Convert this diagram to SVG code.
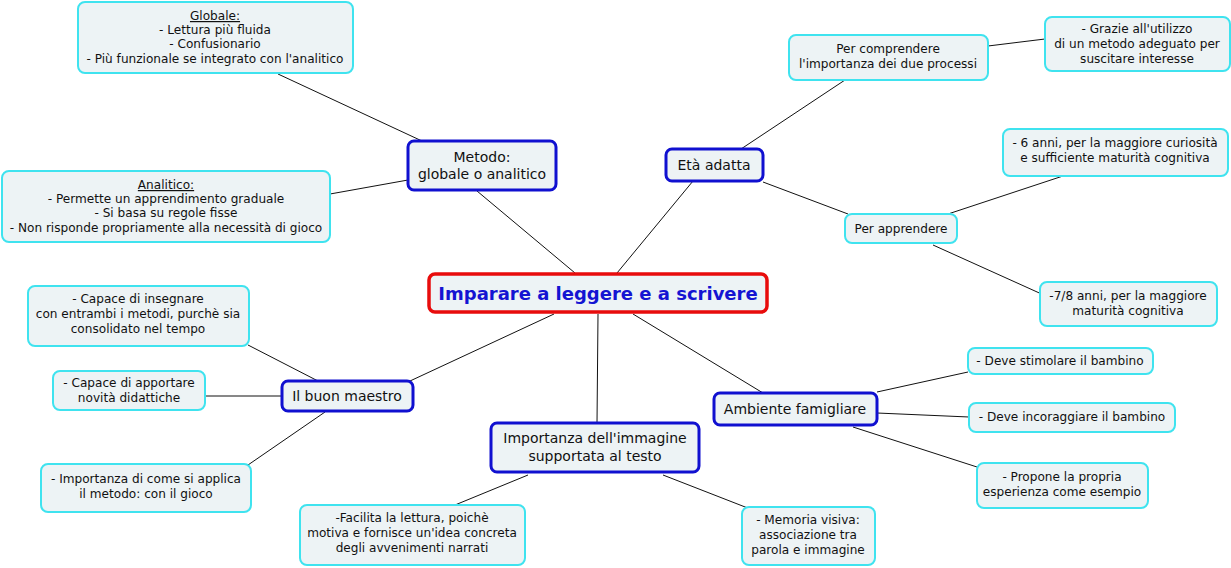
<svg xmlns="http://www.w3.org/2000/svg" width="1231" height="568" viewBox="0 0 1231 568">
<style>
text{font-family:"DejaVu Sans",Verdana,sans-serif;fill:#111;text-anchor:middle}
.leaf rect{fill:#edf3f5;stroke:#3fe3ef;stroke-width:2}
.leaf text{font-size:12.1px}
.main rect{fill:#edf3f5;stroke:#1010d0;stroke-width:3}
.main text{font-size:14px}
.c line{stroke:#111;stroke-width:1}
</style>
<rect width="1231" height="568" fill="#fff"/>
<g class="c">
<line x1="278" y1="74" x2="422" y2="141"/>
<line x1="330" y1="194" x2="408" y2="180"/>
<line x1="477" y1="191" x2="575" y2="273"/>
<line x1="617" y1="273" x2="693" y2="181"/>
<line x1="741" y1="149" x2="845" y2="80"/>
<line x1="988" y1="46" x2="1045" y2="39"/>
<line x1="763" y1="182" x2="848" y2="214"/>
<line x1="948" y1="214" x2="1066" y2="175"/>
<line x1="933" y1="245" x2="1046" y2="296"/>
<line x1="554" y1="314" x2="410" y2="381"/>
<line x1="598" y1="314" x2="597" y2="423"/>
<line x1="633" y1="314" x2="763" y2="393"/>
<line x1="248" y1="345" x2="318" y2="381"/>
<line x1="205" y1="396" x2="282" y2="396"/>
<line x1="248" y1="465" x2="325" y2="412"/>
<line x1="455" y1="505" x2="528" y2="475"/>
<line x1="663" y1="475" x2="758" y2="512"/>
<line x1="877" y1="392" x2="968" y2="372"/>
<line x1="877" y1="413" x2="969" y2="417"/>
<line x1="853" y1="427" x2="977" y2="467"/>
</g>
<g id="central"><rect x="429" y="274" width="338" height="38" rx="6" fill="#edf3f5" stroke="#e80c0c" stroke-width="3.5"/><text x="598" y="300" font-size="18" font-weight="bold" style="fill:#1414d2">Imparare a leggere e a scrivere</text></g>
<g id="metodo" class="main"><rect x="408" y="141" width="148" height="49" rx="6"/><text x="482" y="162">Metodo:</text><text x="482" y="179">globale o analitico</text></g>
<g id="eta" class="main"><rect x="666" y="149" width="97" height="32" rx="6"/><text x="714" y="170">Età adatta</text></g>
<g id="maestro" class="main"><rect x="282" y="381" width="131" height="30" rx="6"/><text x="347" y="401">Il buon maestro</text></g>
<g id="immagine" class="main"><rect x="491" y="423" width="208" height="49" rx="6"/><text x="595" y="443">Importanza dell'immagine</text><text x="595" y="461">supportata al testo</text></g>
<g id="ambiente" class="main"><rect x="714" y="393" width="163" height="32" rx="6"/><text x="795" y="414">Ambiente famigliare</text></g>
<g id="globale" class="leaf"><rect x="78" y="2" width="275" height="71" rx="7"/><text x="215" y="20" text-decoration="underline">Globale:</text><text x="215" y="34">- Lettura più fluida</text><text x="215" y="48">- Confusionario</text><text x="215" y="63">- Più funzionale se integrato con l'analitico</text></g>
<g id="analitico" class="leaf"><rect x="2" y="171" width="328" height="71" rx="7"/><text x="166" y="189" text-decoration="underline">Analitico:</text><text x="166" y="203">- Permette un apprendimento graduale</text><text x="166" y="217">- Si basa su regole fisse</text><text x="166" y="232">- Non risponde propriamente alla necessità di gioco</text></g>
<g id="comprendere" class="leaf"><rect x="789" y="35" width="199" height="45" rx="7"/><text x="888" y="53">Per comprendere</text><text x="888" y="68">l'importanza dei due processi</text></g>
<g id="grazie" class="leaf"><rect x="1045" y="17" width="185" height="54" rx="7"/><text x="1137" y="33">- Grazie all'utilizzo</text><text x="1137" y="48">di un metodo adeguato per</text><text x="1137" y="63">suscitare interesse</text></g>
<g id="apprendere" class="leaf"><rect x="845" y="214" width="112" height="29" rx="7"/><text x="901" y="233">Per apprendere</text></g>
<g id="sei" class="leaf"><rect x="1003" y="129" width="225" height="47" rx="7"/><text x="1115" y="147">- 6 anni, per la maggiore curiosità</text><text x="1115" y="162">e sufficiente maturità cognitiva</text></g>
<g id="sette" class="leaf"><rect x="1040" y="282" width="177" height="44" rx="7"/><text x="1128" y="300">-7/8 anni, per la maggiore</text><text x="1128" y="315">maturità cognitiva</text></g>
<g id="insegnare" class="leaf"><rect x="28" y="286" width="221" height="60" rx="7"/><text x="138" y="303">- Capace di insegnare</text><text x="138" y="318">con entrambi i metodi, purchè sia</text><text x="138" y="333">consolidato nel tempo</text></g>
<g id="apportare" class="leaf"><rect x="53" y="371" width="152" height="39" rx="7"/><text x="129" y="387">- Capace di apportare</text><text x="129" y="402">novità didattiche</text></g>
<g id="come" class="leaf"><rect x="41" y="464" width="210" height="48" rx="7"/><text x="146" y="483">- Importanza di come si applica</text><text x="146" y="498">il metodo: con il gioco</text></g>
<g id="facilita" class="leaf"><rect x="300" y="505" width="225" height="60" rx="7"/><text x="412" y="522">-Facilita la lettura, poichè</text><text x="412" y="537">motiva e fornisce un'idea concreta</text><text x="412" y="552">degli avvenimenti narrati</text></g>
<g id="memoria" class="leaf"><rect x="742" y="507" width="133" height="58" rx="7"/><text x="808" y="524">- Memoria visiva:</text><text x="808" y="539">associazione tra</text><text x="808" y="554">parola e immagine</text></g>
<g id="stimolare" class="leaf"><rect x="968" y="348" width="185" height="26" rx="7"/><text x="1060" y="365">- Deve stimolare il bambino</text></g>
<g id="incoraggiare" class="leaf"><rect x="969" y="403" width="206" height="29" rx="7"/><text x="1072" y="421">- Deve incoraggiare il bambino</text></g>
<g id="propone" class="leaf"><rect x="977" y="463" width="171" height="45" rx="7"/><text x="1062" y="481">- Propone la propria</text><text x="1062" y="496">esperienza come esempio</text></g>
</svg>
